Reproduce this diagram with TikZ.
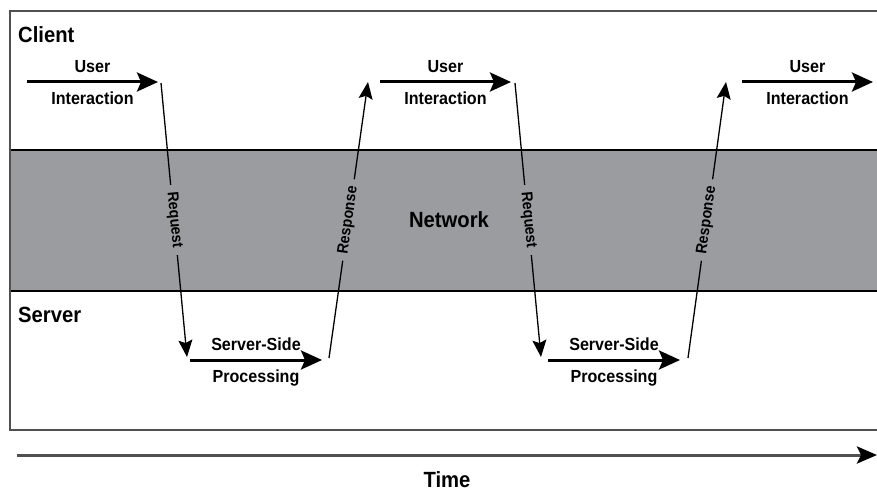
\documentclass[tikz,border=0pt]{standalone}
\usepackage{fontspec}
\setmainfont{Liberation Sans}[FakeStretch=0.92]
\usetikzlibrary{arrows.meta}
\definecolor{netgray}{RGB}{155,156,160}
\definecolor{framegray}{RGB}{80,80,82}
\begin{document}
\begin{tikzpicture}[x=1pt,y=-1pt,
  bigtxt/.style={font=\fontsize{22}{26}\selectfont\bfseries,inner sep=0pt},
  smalltxt/.style={font=\fontsize{17.5}{20}\selectfont\bfseries,inner sep=0pt},
  rottxt/.style={font=\fontsize{15.5}{18}\selectfont\bfseries,fill=netgray,inner xsep=7pt,inner ysep=1pt,sloped},
  thickarrow/.style={line width=3pt,-{Stealth[length=21pt,width=19pt,inset=4pt]}},
  thinarrow/.style={line width=1.3pt,-{Stealth[length=17pt,width=14pt,inset=3pt]}}]
\useasboundingbox (0,0) rectangle (877,492);
\clip (0,0) rectangle (877,492);
% frame and network band
\fill[netgray] (10,150) rectangle (890,291);
\draw[line width=1.3pt] (10,150) -- (890,150);
\draw[line width=1.3pt] (10,291) -- (890,291);
\draw[line width=1.6pt,color=framegray] (890,11) -- (10,11) -- (10,430) -- (890,430);
% lane labels
\node[bigtxt,anchor=west] (client) at (18,35) {Client};
\node[bigtxt,anchor=west] (server) at (18,315) {Server};
\node[bigtxt] (network) at (449,220) {Network};
\node[bigtxt] (time) at (447,480) {Time};
% coordinates
\coordinate (u1s) at (27,82);  \coordinate (u1e) at (158,82);
\coordinate (r1s) at (161,83); \coordinate (r1e) at (187,357);
\coordinate (p1s) at (190,360); \coordinate (p1e) at (322,360);
\coordinate (s1s) at (329,358); \coordinate (s1e) at (368,82);
\coordinate (u2s) at (380,82); \coordinate (u2e) at (511,82);
\coordinate (r2s) at (515,83); \coordinate (r2e) at (541,357);
\coordinate (p2s) at (548,360); \coordinate (p2e) at (680,360);
\coordinate (s2s) at (688,358); \coordinate (s2e) at (726,82);
\coordinate (u3s) at (742,82); \coordinate (u3e) at (873,82);
\coordinate (ts) at (17,455); \coordinate (te) at (877,455);
% user interaction
\draw[thickarrow] (u1s) -- node[smalltxt,above=8pt] (u1a) {User} node[smalltxt,below=8pt] (u1b) {Interaction} (u1e);
\draw[thickarrow] (u2s) -- node[smalltxt,above=8pt] (u2a) {User} node[smalltxt,below=8pt] (u2b) {Interaction} (u2e);
\draw[thickarrow] (u3s) -- node[smalltxt,above=8pt] (u3a) {User} node[smalltxt,below=8pt] (u3b) {Interaction} (u3e);
% server-side processing
\draw[thickarrow] (p1s) -- node[smalltxt,above=8pt] (p1a) {Server-Side} node[smalltxt,below=8pt] (p1b) {Processing} (p1e);
\draw[thickarrow] (p2s) -- node[smalltxt,above=8pt] (p2a) {Server-Side} node[smalltxt,below=8pt] (p2b) {Processing} (p2e);
% requests and responses
\draw[thinarrow] (r1s) -- node[rottxt,pos=0.5] (req1) {Request} (r1e);
\draw[thinarrow] (r2s) -- node[rottxt,pos=0.5] (req2) {Request} (r2e);
\draw[thinarrow] (s1s) -- node[rottxt,pos=0.5] (res1) {Response} (s1e);
\draw[thinarrow] (s2s) -- node[rottxt,pos=0.5] (res2) {Response} (s2e);
% time axis
\draw[line width=3pt,color=framegray,-{Stealth[length=20pt,width=17pt,inset=4pt,black]}] (ts) -- (te);
\end{tikzpicture}
\end{document}
